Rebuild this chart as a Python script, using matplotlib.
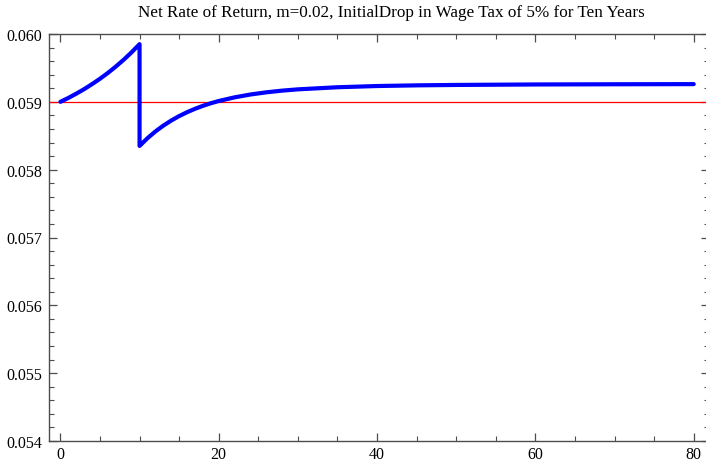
import matplotlib
matplotlib.use("Agg")
import matplotlib.pyplot as plt
from matplotlib.ticker import MultipleLocator, FormatStrFormatter

# Net rate of return path (years since the tax change)
years_before = [0, 1, 2, 3, 4, 5, 6, 7, 8, 9, 10]
rate_before = [0.059000, 0.059057, 0.059120, 0.059187, 0.059261, 0.059340,
               0.059426, 0.059520, 0.059621, 0.059731, 0.059850]

years_after = [10, 11, 12, 13, 14, 15, 16, 17, 18, 19, 20, 22, 24, 26, 28,
               30, 35, 40, 45, 50, 60, 70, 80]
rate_after = [0.058350, 0.058464, 0.058563, 0.058649, 0.058724, 0.058790,
              0.058847, 0.058897, 0.058941, 0.058979, 0.059012, 0.059066,
              0.059108, 0.059140, 0.059165, 0.059184, 0.059215, 0.059233,
              0.059243, 0.059249, 0.059256, 0.059259, 0.059261]

baseline_rate = 0.059
title_text = "Net Rate of Return, m=0.02, InitialDrop in Wage Tax of 5% for Ten Years"

years = years_before + years_after
rates = rate_before + rate_after

plt.rcParams["font.family"] = ["Liberation Serif", "DejaVu Serif"]

fig = plt.figure(figsize=(7.06, 4.64), dpi=100)
ax = fig.add_axes([49.3 / 706, 22 / 464, (709 - 49.3) / 706, (442 - 35) / 464])

ax.axhline(baseline_rate, color="red", lw=0.9, zorder=2)
ax.plot(years, rates, color=(0, 0, 1), lw=3.0, solid_capstyle="round",
        solid_joinstyle="round", zorder=3)

ax.set_xlim(-1.4, 81.93)
ax.set_ylim(0.054, 0.060)

ax.xaxis.set_major_locator(MultipleLocator(20))
ax.xaxis.set_minor_locator(MultipleLocator(5))
ax.yaxis.set_major_locator(MultipleLocator(0.001))
ax.yaxis.set_minor_locator(MultipleLocator(0.0002))
ax.yaxis.set_major_formatter(FormatStrFormatter("%.3f"))

frame_col = "0.3"
for sp in ax.spines.values():
    sp.set_color(frame_col)
    sp.set_linewidth(1.0)

ax.tick_params(which="both", direction="in", top=True, right=True,
               color=frame_col, labelsize=11.5)
ax.tick_params(which="major", length=6, width=0.9)
ax.tick_params(which="minor", length=3.5, width=0.8)
ax.tick_params(axis="y", pad=5)
ax.tick_params(axis="x", pad=3.5)

fig.text(391 / 706, 1 - 13 / 464, title_text, ha="center", va="center",
         fontsize=12.3)

fig.savefig("out.png", dpi=100)
